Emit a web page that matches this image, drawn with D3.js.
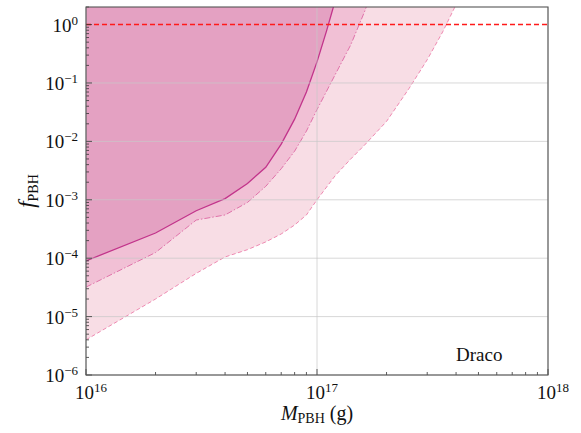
<!DOCTYPE html>
<html>
<head>
<meta charset="utf-8">
<script src="https://cdn.jsdelivr.net/npm/d3@7"></script>
<style>
  body { margin: 0; background: #fff; }
</style>
</head>
<body>
<svg id="chart" width="581" height="433"></svg>
<script>
// ---- data (mass in g, f_PBH) ----
let massSolid = [1e16, 2e16, 3e16, 4e16, 5e16, 6e16, 7e16, 8e16, 9e16, 1e17, 1.1e17, 1.2e17];
let fSolid    = [9e-5, 2.7e-4, 6.5e-4, 1.05e-3, 1.9e-3, 3.6e-3, 9e-3, 0.024, 0.07, 0.23, 0.78, 2.6];

let massDashDot = [1e16, 2e16, 3e16, 4e16, 5e16, 6e16, 7e16, 8e16, 9e16, 1e17, 1.2e17, 1.4e17, 1.6e17, 1.7e17];
let fDashDot    = [3.2e-5, 1.25e-4, 4.5e-4, 5.5e-4, 9e-4, 1.7e-3, 3.4e-3, 6.8e-3, 0.015, 0.035, 0.14, 0.45, 1.6, 3];

let massDashed = [1e16, 2e16, 3e16, 4e16, 5e16, 6e16, 7e16, 8e16, 9e16, 1e17, 1.2e17, 1.4e17, 1.6e17, 2e17, 2.5e17, 3e17, 3.5e17, 4e17];
let fDashed    = [4e-6, 2e-5, 5.5e-5, 1.05e-4, 1.4e-4, 1.9e-4, 2.6e-4, 3.7e-4, 5.5e-4, 1e-3, 2.6e-3, 5e-3, 8.5e-3, 0.022, 0.08, 0.25, 0.75, 2.2];

let xTickExps = [16, 17, 18];
let yTickExps = [-6, -5, -4, -3, -2, -1, 0];
let refLine = 1;
let label = "Draco";

let FONT = '"Liberation Serif"';

// ---- layout ----
let svg = d3.select("#chart");
let margin = {top: 7, right: 33, bottom: 58, left: 86};
let W = 581, H = 433;
let innerW = W - margin.left - margin.right;
let innerH = H - margin.top - margin.bottom;

let x = d3.scaleLog().domain([1e16, 1e18]).range([0, innerW]);
let y = d3.scaleLog().domain([1e-6, 2]).range([innerH, 0]);

let g = svg.append("g").attr("transform", `translate(${margin.left},${margin.top})`);

g.append("clipPath").attr("id", "clip")
  .append("rect").attr("width", innerW).attr("height", innerH);

let plot = g.append("g").attr("clip-path", "url(#clip)");

// filled exclusion regions (curve up to the top)
function zip(ms, fs) { return ms.map((m, i) => ({m: m, f: fs[i]})); }
let area = d3.area().x(d => x(d.m)).y0(0).y1(d => y(d.f));
let line = d3.line().x(d => x(d.m)).y(d => y(d.f));

let bands = [
  {data: zip(massDashed, fDashed), fill: "#f8dde5", stroke: "#ef8ab2", dash: "4,2.5", width: 1},
  {data: zip(massDashDot, fDashDot), fill: "#f1c0d5", stroke: "#e072aa", dash: "6,2,1.5,2", width: 1},
  {data: zip(massSolid, fSolid), fill: "#e4a1c2", stroke: "#c2348b", dash: null, width: 1.3}
];

bands.forEach(b => {
  plot.append("path").datum(b.data).attr("d", area).attr("fill", b.fill);
});

// grid
let grid = g.append("g").attr("stroke", "#c8c8c8").attr("stroke-opacity", 0.7).attr("stroke-width", 1);
yTickExps.forEach(e => {
  if (e === 0) return;
  grid.append("line").attr("x1", 0).attr("x2", innerW)
    .attr("y1", y(Math.pow(10, e))).attr("y2", y(Math.pow(10, e)));
});
xTickExps.forEach(e => {
  grid.append("line").attr("y1", 0).attr("y2", innerH)
    .attr("x1", x(Math.pow(10, e))).attr("x2", x(Math.pow(10, e)));
});

bands.forEach(b => {
  plot.append("path").datum(b.data).attr("d", line)
    .attr("fill", "none").attr("stroke", b.stroke)
    .attr("stroke-width", b.width)
    .attr("stroke-dasharray", b.dash);
});

// f_PBH = 1 line
g.append("line")
  .attr("x1", 0).attr("x2", innerW)
  .attr("y1", y(refLine)).attr("y2", y(refLine))
  .attr("stroke", "#ff1a1a").attr("stroke-width", 1.5)
  .attr("stroke-dasharray", "5,3");

// ---- ticks (inward, with minors) ----
let ticks = g.append("g").attr("stroke", "#333").attr("stroke-width", 0.8);
for (let e = -6; e <= 0; e++) {
  for (let m = 1; m <= 9; m++) {
    let v = m * Math.pow(10, e);
    if (v > 2) continue;
    let len = m === 1 ? 6 : 3;
    ticks.append("line").attr("x1", 0).attr("x2", len).attr("y1", y(v)).attr("y2", y(v));
  }
}
for (let e = 16; e <= 18; e++) {
  for (let m = 1; m <= 9; m++) {
    let v = m * Math.pow(10, e);
    if (v > 1e18) continue;
    let len = m === 1 ? 6 : 3;
    ticks.append("line").attr("y1", innerH).attr("y2", innerH - len).attr("x1", x(v)).attr("x2", x(v));
  }
}

// frame
g.append("rect").attr("width", innerW).attr("height", innerH)
  .attr("fill", "none").attr("stroke", "#555").attr("stroke-width", 1.1);

// tick labels
function txt(parent) {
  return parent.append("text").style("font-family", FONT).attr("fill", "#111");
}
function powLabel(sel, exp) {
  sel.append("tspan").text("10");
  sel.append("tspan").attr("dy", -7).attr("font-size", 13).text(exp < 0 ? "\u2212" + (-exp) : exp);
}
yTickExps.forEach(e => {
  let t = txt(g)
    .attr("x", -8).attr("y", y(Math.pow(10, e)) + 7)
    .attr("text-anchor", "end").attr("font-size", 19);
  powLabel(t, e);
});
xTickExps.forEach(e => {
  let t = txt(g)
    .attr("x", x(Math.pow(10, e)) + 5).attr("y", innerH + 24)
    .attr("text-anchor", "middle").attr("font-size", 19);
  powLabel(t, e);
});

// axis titles
let xl = txt(svg)
  .attr("x", margin.left + innerW / 2).attr("y", 420)
  .attr("text-anchor", "middle").attr("font-size", 20);
xl.append("tspan").attr("font-style", "italic").text("M");
xl.append("tspan").attr("font-size", 14).attr("dy", 3).text("PBH");
xl.append("tspan").attr("dy", -3).text(" (g)");

let yl = txt(svg)
  .attr("transform", `translate(34,${margin.top + innerH / 2}) rotate(-90)`)
  .attr("text-anchor", "middle").attr("font-size", 23);
yl.append("tspan").attr("font-style", "italic").text("f");
yl.append("tspan").attr("font-size", 14).attr("dy", 4).text("PBH");

// annotation
txt(g)
  .attr("x", x(4e17)).attr("y", y(2.2e-6) + 6)
  .attr("font-size", 19).text(label);
</script>
</body>
</html>
